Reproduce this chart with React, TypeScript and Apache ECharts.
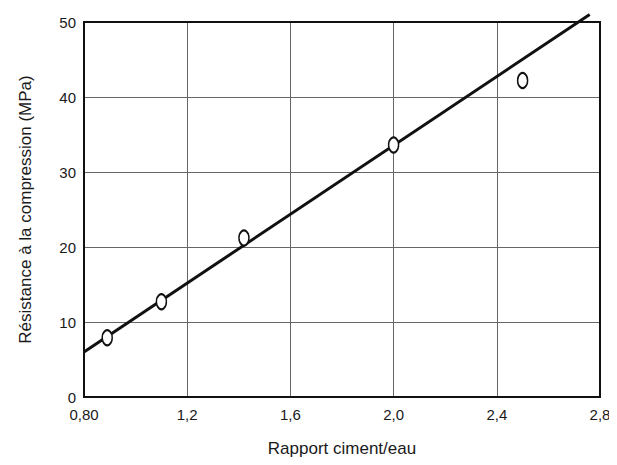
import React, { useEffect, useRef } from "react";
import * as echarts from "echarts";

const ratioValues = [0.89, 1.1, 1.42, 2.0, 2.5];
const strengthValues = [7.9, 12.7, 21.2, 33.6, 42.2];
const fitLineX = [0.8, 2.76];
const fitLineY = [6.0, 51.0];
const xTicks = [0.8, 1.2, 1.6, 2.0, 2.4, 2.8];
const yTicks = [0, 10, 20, 30, 40, 50];

export default function App() {
  const ref = useRef<HTMLDivElement>(null);
  useEffect(() => {
    if (!ref.current) return;
    const chart = echarts.init(ref.current, null, { renderer: "svg" });
    const font = "Liberation Sans, Arial, sans-serif";
    chart.setOption({
      animation: false,
      backgroundColor: "#ffffff",
      grid: { left: 84, right: 17, top: 22, bottom: 68, containLabel: false },
      xAxis: {
        type: "value",
        min: xTicks[0],
        max: xTicks[xTicks.length - 1],
        interval: 0.4,
        name: "Rapport ciment/eau",
        nameLocation: "middle",
        nameGap: 43,
        nameTextStyle: { fontFamily: font, fontSize: 17, color: "#1a1a1a" },
        axisLine: { show: true, lineStyle: { color: "#111", width: 2 } },
        axisTick: { show: false },
        axisLabel: {
          fontFamily: font,
          fontSize: 15,
          color: "#1a1a1a",
          margin: 10,
          formatter: (v: number) =>
            Math.abs(v - 0.8) < 1e-6 ? "0,80" : v.toFixed(1).replace(".", ","),
        },
        splitLine: { show: true, lineStyle: { color: "#666", width: 1 } },
      },
      yAxis: {
        type: "value",
        min: yTicks[0],
        max: yTicks[yTicks.length - 1],
        interval: 10,
        name: "Résistance à la compression (MPa)",
        nameLocation: "middle",
        nameGap: 50,
        nameRotate: 90,
        nameTextStyle: { fontFamily: font, fontSize: 17, color: "#1a1a1a" },
        axisLine: { show: true, lineStyle: { color: "#111", width: 2 } },
        axisTick: { show: false },
        axisLabel: { fontFamily: font, fontSize: 15, color: "#1a1a1a", margin: 8 },
        splitLine: { show: true, lineStyle: { color: "#666", width: 1 } },
      },
      series: [
        {
          type: "line",
          data: fitLineX.map((x, i) => [x, fitLineY[i]]),
          showSymbol: false,
          clip: false,
          lineStyle: { color: "#111", width: 3 },
          z: 3,
        },
        {
          type: "scatter",
          data: ratioValues.map((x, i) => [x, strengthValues[i]]),
          symbol: "circle",
          symbolSize: [10, 15],
          itemStyle: { color: "#ffffff", borderColor: "#111", borderWidth: 1.8, opacity: 1 },
          z: 4,
        },
      ],
      graphic: [
        {
          type: "rect",
          shape: { x: 84, y: 22, width: 516, height: 375 },
          style: { fill: "none", stroke: "#111", lineWidth: 2 },
          silent: true,
          z: 10,
        },
      ],
    });
    return () => chart.dispose();
  }, []);
  return <div ref={ref} style={{ width: 617, height: 465, margin: -8 }} />;
}
